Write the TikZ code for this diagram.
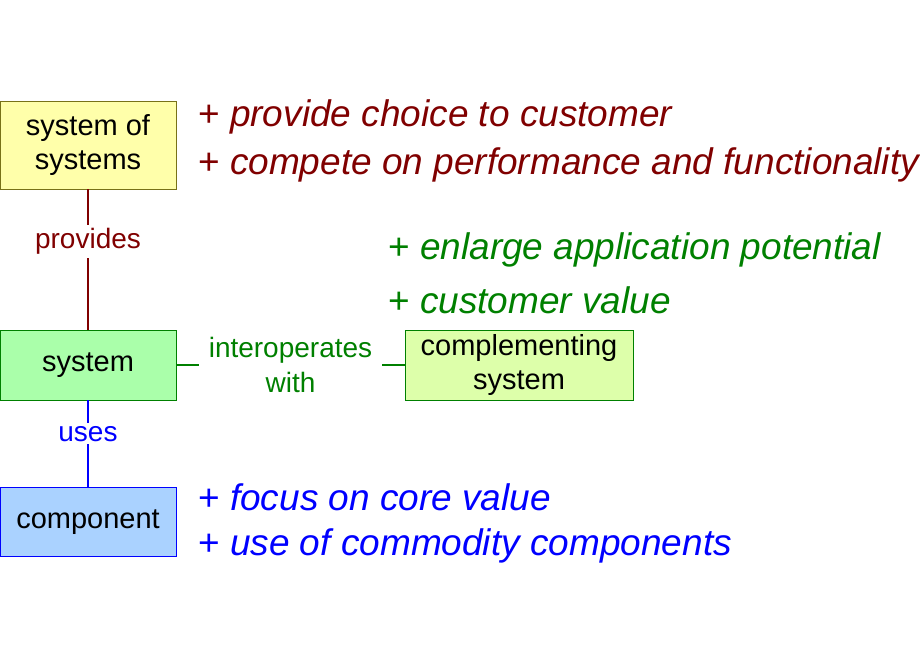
\documentclass[tikz,border=0pt]{standalone}
\usepackage{fontspec}
\setmainfont{Liberation Sans}
\usetikzlibrary{positioning}
\definecolor{darkred}{RGB}{128,0,0}
\definecolor{darkgreen}{RGB}{0,128,0}
\definecolor{boxyellow}{RGB}{255,255,170}
\definecolor{boxgreen}{RGB}{170,255,170}
\definecolor{boxlime}{RGB}{221,255,170}
\definecolor{boxblue}{RGB}{170,210,255}
\tikzset{
  box/.style={draw, line width=0.8pt, minimum width=176pt, align=center, font=\fontsize{29}{34}\selectfont, inner sep=0pt},
  rel/.style={font=\fontsize{28}{35}\selectfont, align=center, fill=white, inner sep=3pt},
  claim/.style={anchor=west, font=\fontsize{37}{42}\selectfont, inner sep=0pt},
}
\newcommand{\plus}[1]{+ \textit{#1}}
\begin{document}
\begin{tikzpicture}[x=1pt,y=-1pt]
        \useasboundingbox (0,0) rectangle (920,660);

        \node [box, fill=boxyellow, draw=olive!80!black, minimum height=88pt] (sos) at (88,145) {system of\\systems};
        \node [box, fill=boxgreen, draw=darkgreen, minimum height=70pt] (sys) at (88,365) {system};
        \node [box, fill=boxlime, draw=darkgreen, minimum width=228pt, minimum height=70pt] (comp) at (519,365) {complementing\\system};
        \node [box, fill=boxblue, draw=blue, minimum height=69pt] (cmp) at (88,522) {component};

        % relations
        \draw [darkred, line width=1.5pt] (sos) -- (sys) node [rel, midway, text=darkred, yshift=18pt] {provides};
        \draw [darkgreen, line width=1.5pt] (sys) -- (comp) node [rel, midway, text=darkgreen, inner xsep=10pt] {interoperates\\with};
        \draw [blue, line width=1.5pt] (sys) -- (cmp) node [rel, midway, text=blue, yshift=10pt] {uses};

        % claims
        \node [claim, text=darkred] (p1) at (198,117) {\plus{provide choice to customer}};
        \node [claim, text=darkred] (p2) at (198,165) {\plus{compete on performance and functionality}};
        \node [claim, text=darkgreen] (g1) at (388,250) {\plus{enlarge application potential}};
        \node [claim, text=darkgreen] (g2) at (388,300) {\plus{customer value}};
        \node [claim, text=blue] (b1) at (198,497) {\plus{focus on core value}};
        \node [claim, text=blue] (b2) at (198,546) {\plus{use of commodity components}};
\end{tikzpicture}
\end{document}
